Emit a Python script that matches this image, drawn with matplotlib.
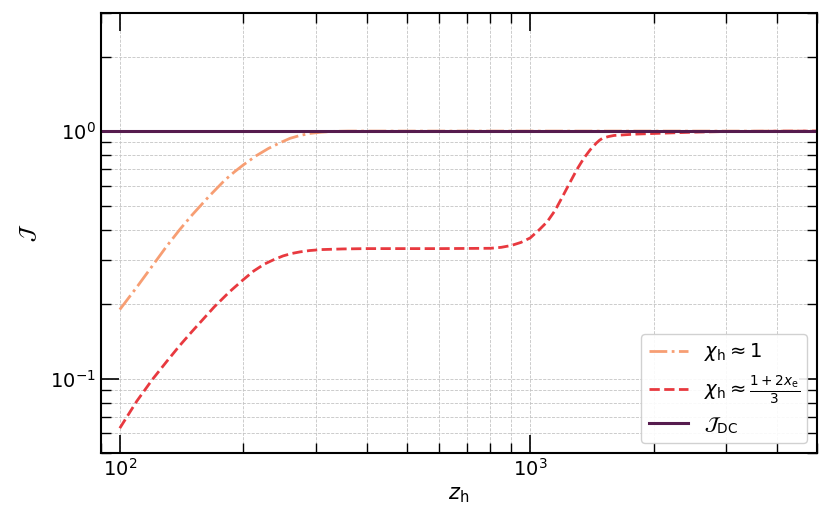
import numpy as np
import matplotlib
matplotlib.use("Agg")
import matplotlib.pyplot as plt

# values (z_h, J)
z_chi1 = [100, 110, 120, 130, 140, 150, 165, 180, 190, 200, 215, 230, 245, 260, 275, 290, 310,
          330, 360, 500, 1000, 2000, 5000]
J_chi1 = [0.19, 0.234, 0.285, 0.342, 0.400, 0.458, 0.545, 0.632, 0.683, 0.73, 0.795, 0.85, 0.895,
          0.935, 0.96, 0.978, 0.99, 0.997, 1.0, 1.0, 1.0, 1.0, 1.0]

z_chixe = [100, 110, 120, 130, 140, 150, 170, 185, 200, 212, 225, 237, 250, 262, 275, 290, 310,
           350, 400, 600, 800, 850, 900, 950, 1000, 1050, 1100, 1150, 1200, 1250, 1300, 1350,
           1400, 1450, 1475, 1500, 1550, 1600, 1800, 2000, 2500, 3000, 4000, 5000]
J_chixe = [0.063, 0.081, 0.099, 0.117, 0.136, 0.155, 0.195, 0.224, 0.251, 0.272, 0.290, 0.302,
           0.313, 0.320, 0.325, 0.329, 0.332, 0.334, 0.335, 0.335, 0.336, 0.339, 0.345, 0.355,
           0.37, 0.398, 0.43, 0.478, 0.545, 0.62, 0.70, 0.775, 0.84, 0.895, 0.918, 0.935, 0.95,
           0.96, 0.972, 0.978, 0.99, 0.996, 0.999, 1.0]

z_dc = [90, 5000]
J_dc = [1.0, 1.0]

plt.rcParams["mathtext.fontset"] = "dejavusans"

fig = plt.figure(figsize=(8.3, 5.23), dpi=100)
ax = fig.add_axes([0.1217, 0.1338, 0.8627, 0.8413])

ax.plot(z_chi1, J_chi1, ls="-.", lw=2, color="#F79E73", label=r"$\chi_{\rm h} \approx 1$")
ax.plot(z_chixe, J_chixe, ls="--", lw=2, color="#E8393F",
        label=r"$\chi_{\rm h} \approx \frac{1+2x_{\rm e}}{3}$")
ax.plot(z_dc, J_dc, ls="-", lw=2.2, color="#561C4E", label=r"$\mathcal{J}_{\rm DC}$")

ax.set_xscale("log")
ax.set_yscale("log")
ax.set_xlim(90, 5000)
ax.set_ylim(0.05, 3)

ax.tick_params(which="both", direction="in", top=True, right=True, labelsize=14)
ax.tick_params(which="major", length=13, width=1.2)
ax.tick_params(which="minor", length=7, width=1.0)
for s in ax.spines.values():
    s.set_linewidth(1.5)

ax.grid(True, which="both", ls="--", lw=0.6, color="#c4c4c4")

ax.set_xlabel(r"$z_{\rm h}$", fontsize=15)
ax.set_ylabel(r"$\mathcal{J}$", fontsize=15, labelpad=8)

ax.legend(loc="lower right", fontsize=14, framealpha=0.9)

plt.savefig("out.png", dpi=100)
